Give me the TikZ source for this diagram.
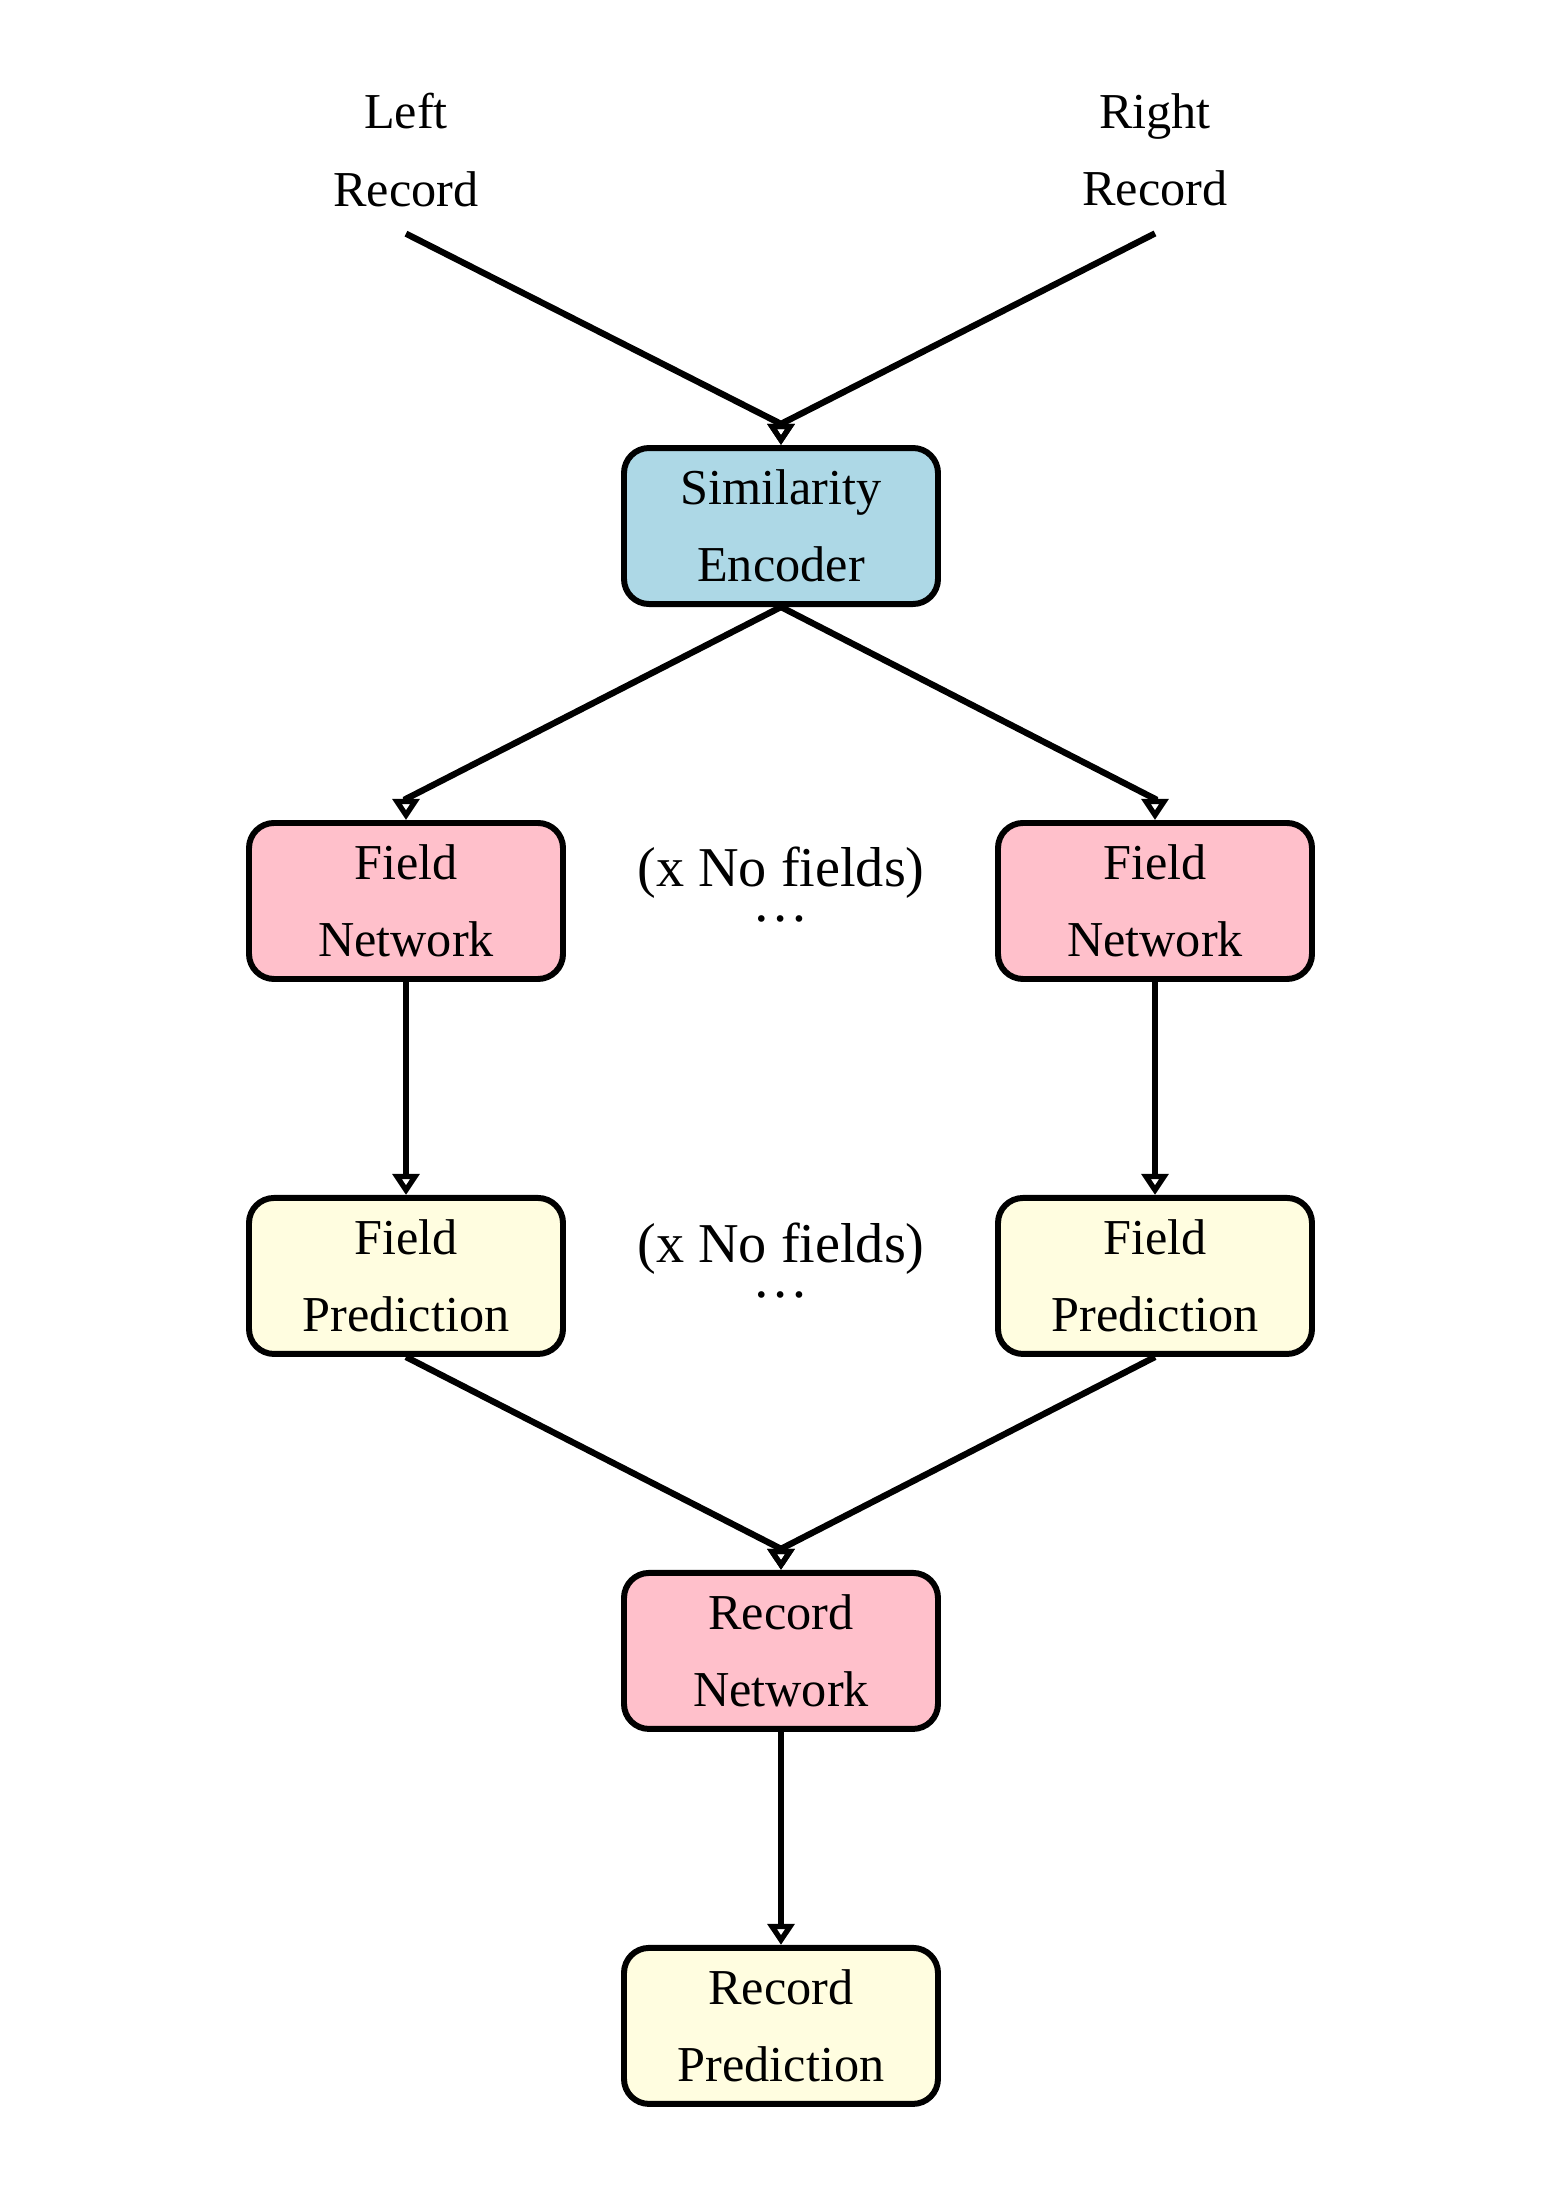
\documentclass[tikz,border=0pt]{standalone}
\usepackage{fontspec}
\setmainfont{Liberation Serif}
\usetikzlibrary{arrows.meta,positioning}

\definecolor{simblue}{RGB}{173,216,230}
\definecolor{netpink}{RGB}{255,192,203}
\definecolor{predyellow}{RGB}{255,253,224}

\begin{document}
\begin{tikzpicture}[node distance=2.13cm, auto,
                    >={Triangle[open,length=6pt,width=7.5pt]},
                    every node/.append style={align=center, font=\fontsize{14.3}{22}\selectfont},
                    int/.style={draw, line width=1.7pt, rounded corners=0.25cm,
                                minimum width=3.14cm, minimum height=1.56cm, inner sep=0pt},
                    rec/.style={inner ysep=7.5pt},
                    mult/.style={font=\fontsize{16}{22}\selectfont},
                    link/.style={->, line width=1.8pt},
                    down in/.style={to path={-- ([yshift=6pt]\tikztotarget) -- (\tikztotarget)}}]
                   \useasboundingbox (0,0) rectangle (15.62,-21.87);

                   \node [rec] (L) at (4.06,-1.5)  {Left\\Record};
                   \node [rec] (R) at (11.55,-1.5) {Right\\Record};
                   \node [int, fill=simblue] (S) at (7.81,-5.26) {Similarity\\Encoder};
                   \node [int, fill=netpink, below=of S, xshift=-3.75cm] (FN_l) {Field\\Network};
                   \node [int, fill=netpink, below=of S, xshift=3.74cm] (FN_r) {Field\\Network};
                   \node [int, fill=predyellow, below=of FN_l] (FP_l) {Field\\Prediction};
                   \node [int, fill=predyellow, below=of FN_r] (FP_r) {Field\\Prediction};
                   \node [int, fill=netpink, below=of FP_l, xshift=3.75cm] (RN) {Record\\Network};
                   \node [int, fill=predyellow, below=of RN] (RP) {Record\\Prediction};

                   \node [mult] (mult_1) at (7.81,-8.85)  {(x No fields)\\[-12pt]\dots};
                   \node [mult] (mult_2) at (7.81,-12.61) {(x No fields)\\[-12pt]\dots};

                   \path[link] (L.south) edge [down in] (S.north);
                   \path[link] (R.south) edge [down in] (S.north);
                   \path[link] (S.south) edge [down in] (FN_l.north);
                   \path[link] (S.south) edge [down in] (FN_r.north);
                   \path[link] (FN_l) edge (FP_l);
                   \path[link] (FN_r) edge (FP_r);
                   \path[link] (FP_l.south) edge [down in] (RN.north);
                   \path[link] (FP_r.south) edge [down in] (RN.north);
                   \path[link] (RN) edge (RP);
                \end{tikzpicture}
\end{document}
